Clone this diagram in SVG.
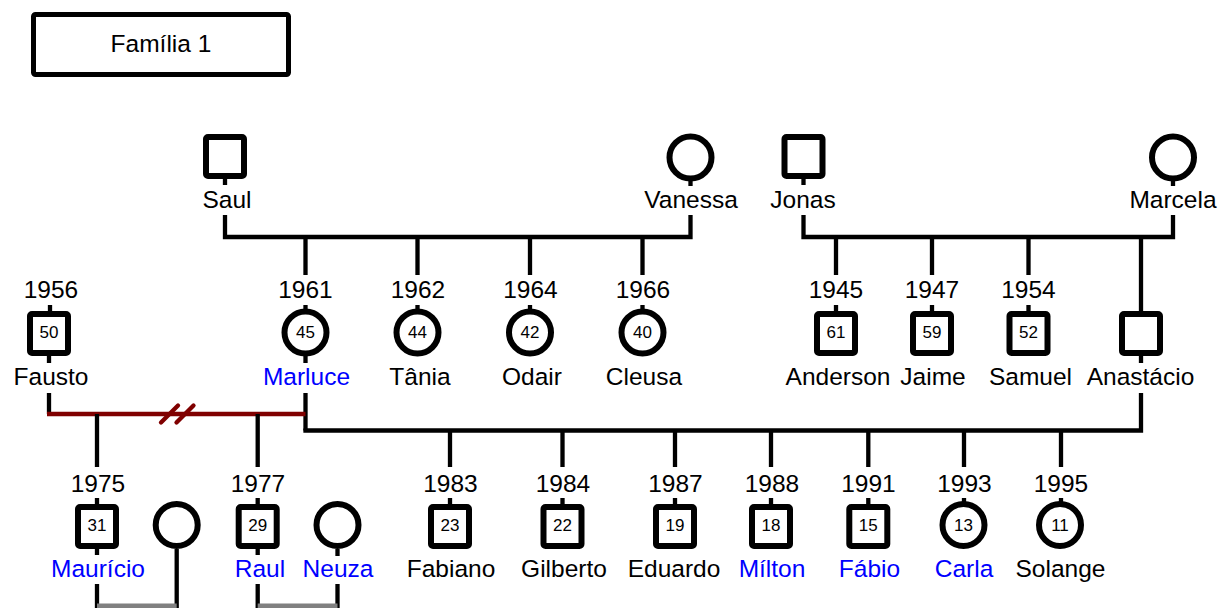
<svg xmlns="http://www.w3.org/2000/svg" width="1229" height="608" viewBox="0 0 1229 608">
  <style>
    text { font-family: "Liberation Sans", Arial, sans-serif; text-anchor: middle; fill: #000; }
    .lbl { font-size: 24.5px; }
    .num { font-size: 17px; }
    .blue { fill: #0000ff; }
    .sq, .ci { fill: #fff; stroke: #000; stroke-width: 6; }
    .ln { fill: none; stroke: #000; stroke-width: 4.3; }
    .div { fill: none; stroke: #800000; stroke-width: 4.3; }
    .mar { fill: none; stroke: #808080; stroke-width: 5; }
  </style>

  <!-- title -->
  <g id="titulo">
    <rect x="33.5" y="14.5" width="255" height="60" rx="2" fill="#fff" stroke="#000" stroke-width="5"/>
    <text class="lbl" x="161" y="52">Família 1</text>
  </g>

  <!-- connectors -->
  <g id="conectores">
    <!-- Saul + Vanessa -->
    <path class="ln" d="M225,179 V185 M690.5,181 V186 M225,215 V237 H690.5 V215"/>
    <path class="ln" d="M305.5,237 V275 M417.5,237 V275 M530,237 V275 M642.5,237 V275"/>
    <!-- Jonas + Marcela -->
    <path class="ln" d="M803.5,179 V185 M1173,181 V186 M803.5,215 V237 H1173 V215"/>
    <path class="ln" d="M836,237 V275 M932,237 V275 M1028.5,237 V275 M1141,237 V311"/>
    <!-- stubs between years and symbols, second row -->
    <path class="ln" d="M50,305 V312 M305.5,305 V310 M417.5,305 V310 M530,305 V310 M642.5,305 V310 M836,305 V312 M932,305 V312 M1028.5,305 V312"/>
    <!-- stubs under symbols -->
    <path class="ln" d="M49,356 V363 M305.5,356 V363 M1141,356 V363"/>
    <!-- Fausto + Marluce (separated) -->
    <path class="ln" d="M49,393 V414 M305.5,393 V430.5"/>
    <path class="div" d="M47,414 H305.5"/>
    <path class="div" stroke-linecap="round" d="M161,422.5 L178,405.5 M176.5,422.5 L193.5,405.5"/>
    <path class="ln" d="M97,414 V467 M257.7,414 V467"/>
    <!-- Marluce + Anastácio -->
    <path class="ln" d="M305.5,428.4 V430.5 H1141 V393"/>
    <path class="ln" d="M450,430.5 V467 M562.5,430.5 V467 M675,430.5 V467 M771,430.5 V467 M868.3,430.5 V467 M964,430.5 V467 M1061,430.5 V467"/>
    <!-- stubs between years and symbols, third row -->
    <path class="ln" d="M97,498 V505 M257.7,498 V505 M450,498 V505 M562.5,498 V505 M675,498 V505 M771,498 V505 M868.3,498 V505 M964,498 V502 M1061,498 V502"/>
    <!-- third row couples -->
    <path class="ln" d="M97,548 V555 M97,584 V608 M176.7,549 V608"/>
    <path class="mar" d="M97,606 H176.7"/>
    <path class="ln" d="M257.7,548 V555 M257.7,584 V608 M337.5,549 V556 M337.5,584 V608"/>
    <path class="mar" d="M257.7,606 H337.5"/>
  </g>

  <!-- first generation -->
  <g id="saul">
    <rect class="sq" x="206" y="137" width="38" height="39" rx="2"/>
    <text class="lbl" x="227" y="208">Saul</text>
  </g>
  <g id="vanessa">
    <circle class="ci" cx="690.5" cy="157.5" r="21"/>
    <text class="lbl" x="691" y="208">Vanessa</text>
  </g>
  <g id="jonas">
    <rect class="sq" x="784.5" y="137" width="38" height="39" rx="2"/>
    <text class="lbl" x="803" y="208">Jonas</text>
  </g>
  <g id="marcela">
    <circle class="ci" cx="1173" cy="157.5" r="21"/>
    <text class="lbl" x="1173" y="208">Marcela</text>
  </g>

  <!-- second generation -->
  <g id="fausto">
    <text class="lbl" x="51" y="298">1956</text>
    <rect class="sq" x="30" y="314" width="38" height="39" rx="2"/>
    <text class="num" x="49" y="337.5">50</text>
    <text class="lbl" x="51" y="385">Fausto</text>
  </g>
  <g id="marluce">
    <text class="lbl" x="305.5" y="298">1961</text>
    <circle class="ci" cx="305.5" cy="332.5" r="21"/>
    <text class="num" x="305.5" y="337.5">45</text>
    <text class="lbl blue" x="306.5" y="385">Marluce</text>
  </g>
  <g id="tania">
    <text class="lbl" x="418" y="298">1962</text>
    <circle class="ci" cx="417.5" cy="332.5" r="21"/>
    <text class="num" x="417.5" y="337.5">44</text>
    <text class="lbl" x="420" y="385">Tânia</text>
  </g>
  <g id="odair">
    <text class="lbl" x="530.5" y="298">1964</text>
    <circle class="ci" cx="530" cy="332.5" r="21"/>
    <text class="num" x="530" y="337.5">42</text>
    <text class="lbl" x="532" y="385">Odair</text>
  </g>
  <g id="cleusa">
    <text class="lbl" x="643" y="298">1966</text>
    <circle class="ci" cx="642.5" cy="332.5" r="21"/>
    <text class="num" x="642.5" y="337.5">40</text>
    <text class="lbl" x="644" y="385">Cleusa</text>
  </g>
  <g id="anderson">
    <text class="lbl" x="836" y="298">1945</text>
    <rect class="sq" x="817" y="314" width="38" height="39" rx="2"/>
    <text class="num" x="836" y="337.5">61</text>
    <text class="lbl" x="838" y="385">Anderson</text>
  </g>
  <g id="jaime">
    <text class="lbl" x="932" y="298">1947</text>
    <rect class="sq" x="913" y="314" width="38" height="39" rx="2"/>
    <text class="num" x="932" y="337.5">59</text>
    <text class="lbl" x="933" y="385">Jaime</text>
  </g>
  <g id="samuel">
    <text class="lbl" x="1028.5" y="298">1954</text>
    <rect class="sq" x="1009.5" y="314" width="38" height="39" rx="2"/>
    <text class="num" x="1028.5" y="337.5">52</text>
    <text class="lbl" x="1030.5" y="385">Samuel</text>
  </g>
  <g id="anastacio">
    <rect class="sq" x="1122" y="314" width="38" height="39" rx="2"/>
    <text class="lbl" x="1140.5" y="385">Anastácio</text>
  </g>

  <!-- third generation -->
  <g id="mauricio">
    <text class="lbl" x="98" y="492">1975</text>
    <rect class="sq" x="78" y="507" width="38" height="39" rx="2"/>
    <text class="num" x="97" y="530.5">31</text>
    <text class="lbl blue" x="98" y="577">Maurício</text>
  </g>
  <g id="esposa-mauricio">
    <circle class="ci" cx="176.7" cy="525" r="21"/>
  </g>
  <g id="raul">
    <text class="lbl" x="258" y="492">1977</text>
    <rect class="sq" x="238.7" y="507" width="38" height="39" rx="2"/>
    <text class="num" x="257.7" y="530.5">29</text>
    <text class="lbl blue" x="260" y="577">Raul</text>
  </g>
  <g id="neuza">
    <circle class="ci" cx="337.5" cy="525" r="21"/>
    <text class="lbl blue" x="338" y="577">Neuza</text>
  </g>
  <g id="fabiano">
    <text class="lbl" x="450.5" y="492">1983</text>
    <rect class="sq" x="431" y="507" width="38" height="39" rx="2"/>
    <text class="num" x="450" y="530.5">23</text>
    <text class="lbl" x="451" y="577">Fabiano</text>
  </g>
  <g id="gilberto">
    <text class="lbl" x="563" y="492">1984</text>
    <rect class="sq" x="543.5" y="507" width="38" height="39" rx="2"/>
    <text class="num" x="562.5" y="530.5">22</text>
    <text class="lbl" x="564" y="577">Gilberto</text>
  </g>
  <g id="eduardo">
    <text class="lbl" x="675.5" y="492">1987</text>
    <rect class="sq" x="656" y="507" width="38" height="39" rx="2"/>
    <text class="num" x="675" y="530.5">19</text>
    <text class="lbl" x="674" y="577">Eduardo</text>
  </g>
  <g id="milton">
    <text class="lbl" x="772" y="492">1988</text>
    <rect class="sq" x="752" y="507" width="38" height="39" rx="2"/>
    <text class="num" x="771" y="530.5">18</text>
    <text class="lbl blue" x="772" y="577">Mílton</text>
  </g>
  <g id="fabio">
    <text class="lbl" x="868.5" y="492">1991</text>
    <rect class="sq" x="849.3" y="507" width="38" height="39" rx="2"/>
    <text class="num" x="868.3" y="530.5">15</text>
    <text class="lbl blue" x="869.5" y="577">Fábio</text>
  </g>
  <g id="carla">
    <text class="lbl" x="964.5" y="492">1993</text>
    <circle class="ci" cx="963.5" cy="525" r="21"/>
    <text class="num" x="963.5" y="530.5">13</text>
    <text class="lbl blue" x="964" y="577">Carla</text>
  </g>
  <g id="solange">
    <text class="lbl" x="1061" y="492">1995</text>
    <circle class="ci" cx="1060" cy="525" r="21"/>
    <text class="num" x="1060" y="530.5">11</text>
    <text class="lbl" x="1060.5" y="577">Solange</text>
  </g>
</svg>
